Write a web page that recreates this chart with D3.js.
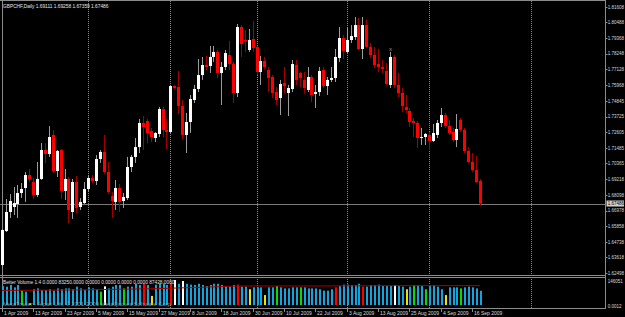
<!DOCTYPE html>
<html>
<head>
<meta charset="utf-8">
<script src="https://cdn.jsdelivr.net/npm/d3@7"></script>
<style>
body { margin: 0; background: #000; }
svg { display: block; }
text { font-family: "Liberation Sans", Arial, sans-serif; }
</style>
</head>
<body>
<svg></svg>
<script>
var width = 625;
var height = 317;

// GBPCHF daily, 1 Apr 2009 .. 18 Sep 2009
var openP = [
1.6307,1.6551,1.6688,1.6724,1.6745,1.6824,1.6860,1.6953,1.6903,1.6810,
1.6925,1.7133,1.7104,1.7241,1.6982,1.7133,1.6839,1.6925,1.6688,1.6903,
1.6724,1.6752,1.6853,1.6932,1.6910,1.7068,1.7119,1.6975,1.6803,1.6760,
1.6860,1.6767,1.6788,1.7011,1.7083,1.7154,1.7327,1.7341,1.7269,1.7219,
1.7248,1.7427,1.7277,1.7262,1.7592,1.7585,1.7449,1.7241,1.7334,1.7492,
1.7571,1.7671,1.7743,1.7736,1.7801,1.7837,1.7686,1.7729,1.7815,1.7750,
1.7542,1.8016,1.7923,1.7851,1.7930,1.7872,1.7693,1.7772,1.7707,1.7657,
1.7549,1.7506,1.7614,1.7542,1.7571,1.7743,1.7686,1.7636,1.7564,1.7657,
1.7535,1.7549,1.7707,1.7592,1.7636,1.7650,1.7794,1.7937,1.7837,1.7923,
1.7944,1.8030,1.7858,1.8030,1.7872,1.7815,1.7750,1.7729,1.7700,1.7600,
1.7801,1.7600,1.7542,1.7442,1.7413,1.7341,1.7327,1.7219,1.7226,1.7241,
1.7198,1.7241,1.7327,1.7384,1.7305,1.7262,1.7205,1.7348,1.7277,1.7126,
1.7047,1.6989,1.69111
];
var highP = [
1.6566,1.6781,1.6817,1.6867,1.6882,1.6896,1.6975,1.6997,1.6932,1.7047,
1.7183,1.7183,1.7305,1.7277,1.7133,1.7140,1.6997,1.6939,1.6925,1.6946,
1.6788,1.6903,1.6953,1.6953,1.7097,1.7133,1.7241,1.7047,1.6831,1.6918,
1.6889,1.6824,1.7083,1.7097,1.7219,1.7356,1.7377,1.7356,1.7291,1.7262,
1.7442,1.7442,1.7356,1.7600,1.7600,1.7700,1.7492,1.7399,1.7528,1.7600,
1.7786,1.7801,1.7808,1.7880,1.7880,1.7851,1.7765,1.7851,1.7916,1.7765,
1.8038,1.8030,1.7995,1.8002,1.8059,1.7880,1.7808,1.7801,1.7729,1.7671,
1.7585,1.7636,1.7729,1.7600,1.7779,1.7779,1.7693,1.7693,1.7729,1.7671,
1.7600,1.7729,1.7729,1.7657,1.7729,1.7858,1.8016,1.7959,1.8009,1.8030,
1.8088,1.8081,1.8088,1.8066,1.7901,1.7872,1.7858,1.7779,1.7758,1.7837,
1.7815,1.7686,1.7578,1.7528,1.7435,1.7363,1.7341,1.7291,1.7255,1.7262,
1.7320,1.7348,1.7435,1.7399,1.7348,1.7291,1.7391,1.7363,1.7291,1.7154,
1.7111,1.7090,1.69258
];
var lowP = [
1.6286,1.6544,1.6645,1.6666,1.6645,1.6788,1.6760,1.6903,1.6781,1.6795,
1.6918,1.7040,1.7083,1.6968,1.6939,1.6781,1.6774,1.6609,1.6638,1.6681,
1.6702,1.6745,1.6831,1.6896,1.6882,1.7040,1.6961,1.6817,1.6645,1.6702,
1.6688,1.6717,1.6774,1.6975,1.7040,1.7111,1.7133,1.7183,1.7190,1.7190,
1.7226,1.7226,1.7140,1.7255,1.7571,1.7391,1.7212,1.7111,1.7255,1.7470,
1.7549,1.7636,1.7707,1.7686,1.7765,1.7650,1.7456,1.7707,1.7707,1.7470,
1.7513,1.7801,1.7837,1.7837,1.7837,1.7671,1.7600,1.7715,1.7549,1.7506,
1.7456,1.7384,1.7542,1.7377,1.7549,1.7600,1.7585,1.7542,1.7549,1.7478,
1.7435,1.7521,1.7578,1.7528,1.7621,1.7621,1.7765,1.7786,1.7829,1.7901,
1.7923,1.7851,1.7786,1.7865,1.7794,1.7722,1.7693,1.7686,1.7600,1.7578,
1.7578,1.7513,1.7406,1.7399,1.7298,1.7226,1.7147,1.7169,1.7169,1.7133,
1.7190,1.7219,1.7298,1.7291,1.7241,1.7190,1.7154,1.7262,1.7111,1.7040,
1.6975,1.6896,1.67359
];
var closeP = [
1.6559,1.6688,1.6767,1.6752,1.6824,1.6853,1.6953,1.6925,1.6810,1.6925,
1.7133,1.7104,1.7226,1.6982,1.7126,1.6839,1.6925,1.6702,1.6903,1.6717,
1.6760,1.6853,1.6932,1.6910,1.7068,1.7119,1.6975,1.6831,1.6767,1.6860,
1.6760,1.6795,1.7011,1.7083,1.7154,1.7327,1.7298,1.7255,1.7226,1.7255,
1.7427,1.7277,1.7262,1.7592,1.7578,1.7449,1.7241,1.7334,1.7499,1.7571,
1.7671,1.7743,1.7729,1.7801,1.7837,1.7686,1.7729,1.7829,1.7750,1.7542,
1.8016,1.7894,1.7916,1.7923,1.7865,1.7693,1.7772,1.7729,1.7650,1.7542,
1.7492,1.7607,1.7592,1.7578,1.7750,1.7636,1.7650,1.7578,1.7657,1.7528,
1.7549,1.7700,1.7592,1.7636,1.7650,1.7801,1.7937,1.7844,1.7923,1.7951,
1.8030,1.7858,1.8030,1.7872,1.7815,1.7743,1.7729,1.7715,1.7607,1.7801,
1.7600,1.7542,1.7449,1.7420,1.7334,1.7327,1.7219,1.7226,1.7248,1.7198,
1.7255,1.7327,1.7384,1.7305,1.7255,1.7205,1.7284,1.7277,1.7126,1.7047,
1.6989,1.6903,1.67486
];

// Better Volume histogram
var volume = [
111000,107000,117000,103000,117000,84000,78000,10000,92000,97000,
88000,88000,92000,84000,97000,92000,97000,97000,92000,107000,
97000,88000,103000,97000,92000,78000,109000,97000,107000,117000,
117000,97000,107000,107000,124000,117000,124000,117000,53000,119000,
124000,124000,117000,130000,146000,124000,140000,124000,119000,117000,
124000,117000,111000,117000,124000,124000,117000,111000,107000,117000,
119000,107000,107000,92000,103000,103000,103000,58000,103000,103000,
111000,103000,97000,97000,103000,103000,103000,103000,97000,97000,
97000,92000,84000,84000,92000,103000,111000,119000,119000,117000,
117000,124000,107000,107000,117000,117000,119000,111000,111000,111000,
117000,111000,107000,92000,107000,117000,117000,111000,92000,117000,
117000,107000,92000,58000,103000,103000,103000,97000,103000,107000,
103000,97000,83250
];
// b blue, r red, y yellow, g green, w white
var volColor = ("bbbbbgbybb" + "bbbbbbbbbb" + "bbbbbgwbbb" + "bgbbbbrbyb" +
  "bbbrwbwbbb" + "bbbbbbbbbb" + "rbbybbbybb" + "gbbbbbgbbb" + "bbbbbrbbbb" +
  "bbrbbbbbbb" + "wbbybgbbgb" + "bbbybbbgbb" + "bbb").split('');
var maIndex = [0, 20, 40, 53, 60, 80, 100, 122];
var maValue = [85000, 88000, 96000, 105000, 111000, 111000, 113000, 113000];

var priceLabels = [1.81608, 1.80488, 1.79368, 1.78248, 1.77128, 1.75968, 1.74845,
  1.73725, 1.72605, 1.71485, 1.70365, 1.69218, 1.68098, 1.66978, 1.65858,
  1.64738, 1.63618, 1.62498];
var dateLabels = ["1 Apr 2009", "13 Apr 2009", "23 Apr 2009", "5 May 2009", "15 May 2009",
  "27 May 2009", "8 Jun 2009", "18 Jun 2009", "30 Jun 2009", "10 Jul 2009", "22 Jul 2009",
  "3 Aug 2009", "13 Aug 2009", "25 Aug 2009", "4 Sep 2009", "16 Sep 2009"];
var markerIndex = [99];
var markerPrice = [1.7858];
var lastPrice = 1.67486;
var volTop = 146051;

var colors = { b: '#0fa6e0', r: '#ff0000', y: '#e6e600', g: '#00e000', w: '#ffffff' };

// trading days (weekdays)
var dates = d3.timeDay.range(new Date(2009, 3, 1), new Date(2009, 8, 19))
    .filter(function(d) { return d.getDay() % 6 !== 0; });
var last = dates.length - 1;

var plotRight = 605.5;

var x = d3.scaleLinear().domain([0, last]).range([1.8, 480]);
var y = d3.scaleLinear().domain([1.62498, 1.82099]).range([273, 0]);
var yv = d3.scaleLinear().domain([0, volTop]).range([305, 280]);
function cx(i) { return Math.round(x(i)) + 0.5; }

var svg = d3.select('svg')
    .attr("width", width)
    .attr("height", height)
    .style("background", "#000");

// period separators (first bar of each month, plus next month projected by calendar days)
var sepIdx = [];
dates.forEach(function(d, i) {
    if (i === 0 || d.getMonth() !== dates[i - 1].getMonth()) sepIdx.push(i);
});
sepIdx.push(last + d3.timeDay.count(dates[last], new Date(2009, 9, 1)));

svg.append('g').selectAll('line').data(sepIdx).enter().append('line')
    .attr("x1", function(d) { return cx(d); })
    .attr("x2", function(d) { return cx(d); })
    .attr("y1", 1)
    .attr("y2", 308)
    .attr("stroke", '#8a8a8a')
    .attr("stroke-width", 1)
    .attr("stroke-dasharray", function(d, k) { return k === 0 ? null : "1,1"; });

// frame
var frame = svg.append('g').attr("stroke", '#8c8c8c').attr("stroke-width", 1);
frame.append('line').attr("x1", 0).attr("x2", plotRight).attr("y1", 0.5).attr("y2", 0.5);
frame.append('line').attr("x1", 0).attr("x2", plotRight).attr("y1", 275.5).attr("y2", 275.5);
frame.append('line').attr("x1", 0).attr("x2", plotRight).attr("y1", 277.5).attr("y2", 277.5);
frame.append('line').attr("x1", 0).attr("x2", plotRight).attr("y1", 308.5).attr("y2", 308.5);
frame.append('line').attr("x1", plotRight).attr("x2", plotRight).attr("y1", 0).attr("y2", 309);

// current price line
svg.append('line')
    .attr("x1", 0).attr("x2", plotRight)
    .attr("y1", Math.round(y(lastPrice)) + 0.5)
    .attr("y2", Math.round(y(lastPrice)) + 0.5)
    .attr("stroke", '#7a7a7a');

// candles
var idx = d3.range(dates.length);
var candles = svg.append('g').selectAll('g').data(idx).enter().append('g');
candles.append('line')
    .attr("x1", function(i) { return cx(i); })
    .attr("x2", function(i) { return cx(i); })
    .attr("y1", function(i) { return y(highP[i]); })
    .attr("y2", function(i) { return y(lowP[i]); })
    .attr("stroke", function(i) { return closeP[i] >= openP[i] ? '#9c9c9c' : '#a00000'; });
candles.append('rect')
    .attr("x", function(i) { return cx(i) - 1.5; })
    .attr("width", 3)
    .attr("y", function(i) { return y(Math.max(openP[i], closeP[i])); })
    .attr("height", function(i) { return Math.max(1, Math.abs(y(openP[i]) - y(closeP[i]))); })
    .attr("fill", function(i) { return closeP[i] >= openP[i] ? '#ffffff' : '#ff0000'; });

// marker
svg.append('g').selectAll('text').data(markerIndex).enter().append('text')
    .attr("x", function(d) { return cx(d); })
    .attr("y", function(d, k) { return y(markerPrice[k]) + 1.5; })
    .attr("text-anchor", "middle")
    .attr("font-size", 6)
    .attr("fill", '#9a9a9a')
    .text('x');

// price axis
var pax = svg.append('g');
pax.selectAll('line').data(priceLabels).enter().append('line')
    .attr("x1", plotRight).attr("x2", plotRight + 2)
    .attr("y1", function(d) { return Math.round(y(d)) + 0.5; })
    .attr("y2", function(d) { return Math.round(y(d)) + 0.5; })
    .attr("stroke", '#8c8c8c');
pax.selectAll('text').data(priceLabels).enter().append('text')
    .attr("x", 607.8)
    .attr("y", function(d) { return y(d) + 1.7; })
    .attr("font-size", 4.5)
    .attr("fill", '#d8d8d8')
    .text(function(d) { return d.toFixed(5); });

// current price tag
svg.append('rect')
    .attr("x", 606.5).attr("y", y(lastPrice) - 3)
    .attr("width", 17.5).attr("height", 6)
    .attr("fill", '#d0d0d0');
svg.append('text')
    .attr("x", 607.8).attr("y", y(lastPrice) + 1.7)
    .attr("font-size", 4.5)
    .attr("fill", '#000')
    .text(lastPrice.toFixed(5));

// volume panel
svg.append('g').selectAll('rect').data(idx).enter().append('rect')
    .attr("x", function(i) { return Math.round(x(i)); })
    .attr("width", 2)
    .attr("y", function(i) { return yv(volume[i]); })
    .attr("height", function(i) { return yv(0) - yv(volume[i]); })
    .attr("fill", function(i) { return colors[volColor[i]]; });

svg.append('path')
    .datum(maIndex)
    .attr("d", d3.line()
        .x(function(d) { return x(d); })
        .y(function(d, k) { return yv(maValue[k]); }))
    .attr("fill", 'none')
    .attr("stroke", '#a80000')
    .attr("stroke-width", 1);

svg.append('text')
    .attr("x", 3).attr("y", 283.5)
    .attr("font-size", 4.8)
    .attr("fill", '#e0e0e0')
    .text("Better Volume 1.4 0.0000 83250.0000 0.0000 0.0000 0.0000 0.0000 87428.0000");

svg.append('text')
    .attr("x", 3).attr("y", 305.5)
    .attr("font-size", 5.8)
    .attr("fill", '#9aa4b4')
    .attr("fill-opacity", 0.85)
    .text("MetaTrader - Alpari UK, \u00a9 2001-2009 MetaQuotes Software Corp.");

svg.append('text')
    .attr("x", 607.8).attr("y", 282.5)
    .attr("font-size", 4.5)
    .attr("fill", '#d8d8d8')
    .text(volTop);
svg.append('text')
    .attr("x", 607.8).attr("y", 307.5)
    .attr("font-size", 4.5)
    .attr("fill", '#d8d8d8')
    .text("0.0012");

// date axis
var parseDate = d3.timeParse("%d %b %Y");
var dateIdx = dateLabels.map(function(s) {
    var p = parseDate(s);
    return dates.findIndex(function(d) { return +d === +p; });
});
var dax = svg.append('g');
dax.selectAll('line').data(dateIdx).enter().append('line')
    .attr("x1", function(d) { return cx(d); })
    .attr("x2", function(d) { return cx(d); })
    .attr("y1", 309).attr("y2", 312)
    .attr("stroke", '#8c8c8c');
dax.selectAll('text').data(dateLabels).enter().append('text')
    .attr("x", function(d, k) { return cx(dateIdx[k]) + 1.5; })
    .attr("y", 314.5)
    .attr("font-size", 5)
    .attr("fill", '#d8d8d8')
    .text(function(d) { return d; });

// title
svg.append('text')
    .attr("x", 3).attr("y", 8)
    .attr("font-size", 4.8)
    .attr("fill", '#e8e8e8')
    .text("GBPCHF,Daily  1.69111 1.69258 1.67359 1.67486");
</script>
</body>
</html>
